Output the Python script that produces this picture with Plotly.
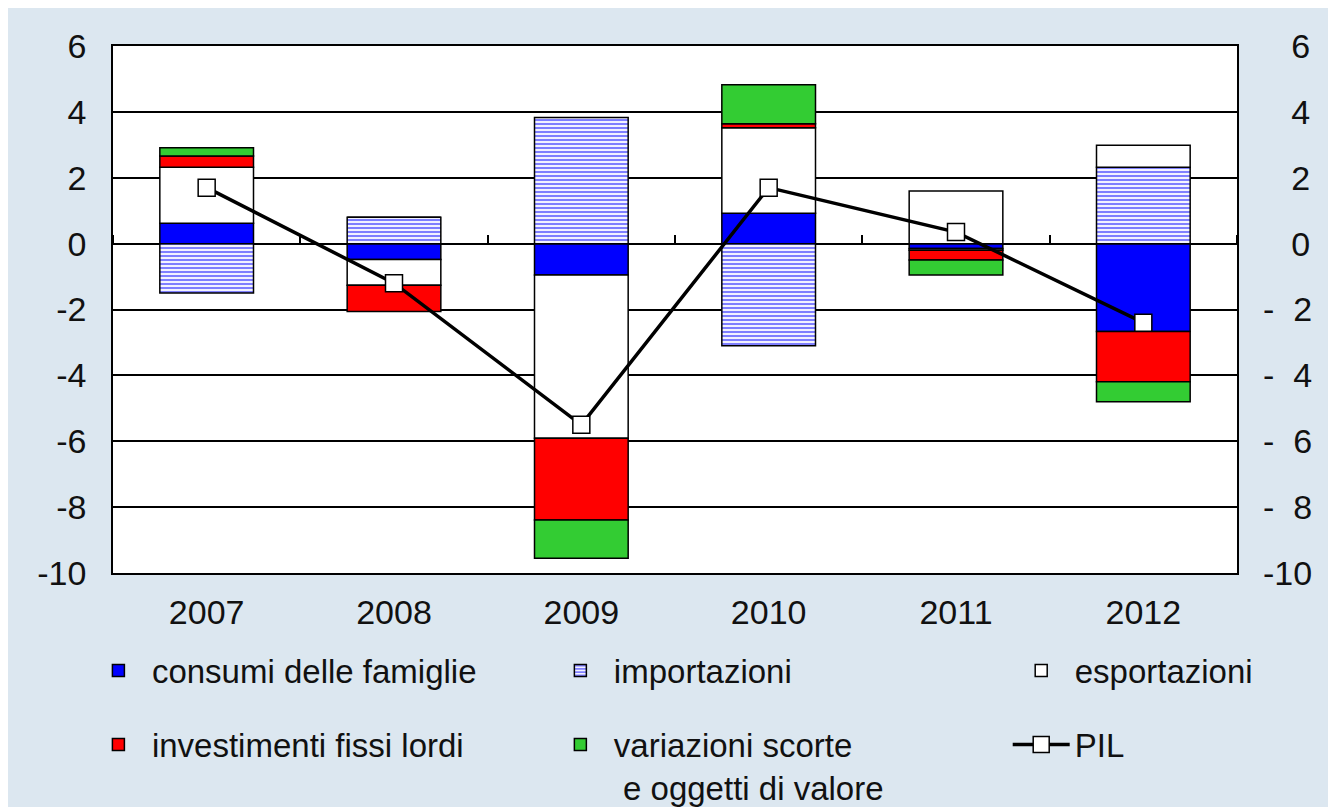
import plotly.graph_objects as go

# contributi alla crescita del PIL (punti percentuali)
anni = ["2007", "2008", "2009", "2010", "2011", "2012"]
consumi = [0.62, -0.48, -0.95, 0.92, -0.15, -2.67]
importazioni = [-1.5, 0.8, 3.83, -3.1, -0.05, 2.32]
esportazioni = [1.7, -0.78, -4.96, 2.6, 1.6, 0.67]
investimenti = [0.34, -0.8, -2.48, 0.12, -0.3, -1.52]
scorte = [0.25, 0.0, -1.16, 1.18, -0.45, -0.61]
pil = [1.7, -1.2, -5.5, 1.7, 0.35, -2.4]

y_ticks = [6, 4, 2, 0, -2, -4, -6, -8, -10]

FONT = "Liberation Sans, Arial, sans-serif"
BG = "#dce7f0"
NB = "\u00a0"


def left_label(v):
    return str(v)


def right_label(v):
    # etichette allineate a destra come nell'originale
    if v <= -10:
        return str(v)
    if v < 0:
        return "-" + NB * 2 + str(-v)
    return NB * 3 + str(v)


def bar(name, values, color, legend, group, pattern=None):
    marker = dict(color=color, line=dict(color="black", width=1.5))
    if pattern:
        marker["pattern"] = pattern
    return go.Bar(x=anni, y=values, name=name, marker=marker, width=0.5,
                  legend=legend, legendgroup=group)


fig = go.Figure()
fig.add_trace(bar("consumi delle famiglie", consumi, "#0000ff", "legend", "a"))
fig.add_trace(bar("importazioni", importazioni, "white", "legend2", "b",
                  pattern=dict(shape="-", fgcolor="#0000ff", bgcolor="white",
                               size=4, solidity=0.55, fillmode="overlay")))
fig.add_trace(bar("esportazioni", esportazioni, "white", "legend3", "c"))
fig.add_trace(bar("investimenti fissi lordi", investimenti, "#ff0000", "legend", "d"))
fig.add_trace(bar("variazioni scorte<br>\u00a0e oggetti di valore", scorte, "#33cc33",
                  "legend2", "e"))
fig.add_trace(go.Scatter(x=anni, y=pil, name="PIL", mode="lines+markers",
                         line=dict(color="black", width=3.5),
                         marker=dict(symbol="square", size=17, color="white",
                                     line=dict(color="black", width=1.5)),
                         xaxis="x2", yaxis="y2", legend="legend3", legendgroup="f"))

legend_common = dict(font=dict(family=FONT, size=33, color="#111111"),
                     bgcolor="rgba(0,0,0,0)", orientation="v", yanchor="top",
                     xanchor="left", itemwidth=57, tracegroupgap=28,
                     traceorder="grouped", valign="top")

fig.update_layout(
    width=1336, height=807,
    margin=dict(l=105, r=107, t=38, b=242, autoexpand=False),
    paper_bgcolor=BG, plot_bgcolor="white",
    barmode="relative",
    font=dict(family=FONT, size=34, color="#111111"),
    showlegend=True,
    legend=dict(x=-0.025, y=-0.132, **legend_common),
    legend2=dict(x=0.386, y=-0.132, **legend_common),
    legend3=dict(x=0.796, y=-0.132, **legend_common),
    xaxis=dict(type="category", categoryarray=anni, range=[-0.5, 5.5],
               showline=True, mirror=True, linecolor="black", linewidth=1.5,
               ticks="", showgrid=False, ticklabelstandoff=8),
    xaxis2=dict(type="category", categoryarray=anni, range=[-0.5, 5.5],
                overlaying="x", anchor="free", position=10 / 16, side="top",
                tickson="boundaries", ticks="outside", ticklen=9,
                tickwidth=1.5, tickcolor="black", showticklabels=False,
                showgrid=False, showline=False),
    yaxis=dict(range=[-10, 6], tickvals=y_ticks,
               ticktext=[left_label(v) for v in y_ticks],
               showgrid=True, gridcolor="black", gridwidth=1.5,
               zeroline=False, showline=True, mirror=True,
               linecolor="black", linewidth=1.5, ticks="",
               ticklabelstandoff=18),
    yaxis2=dict(range=[-10, 6], tickvals=y_ticks,
                ticktext=[right_label(v) for v in y_ticks],
                overlaying="y", side="right", showgrid=False,
                zeroline=False, ticks="", ticklabelstandoff=25),
)

fig.write_html("out.html")
